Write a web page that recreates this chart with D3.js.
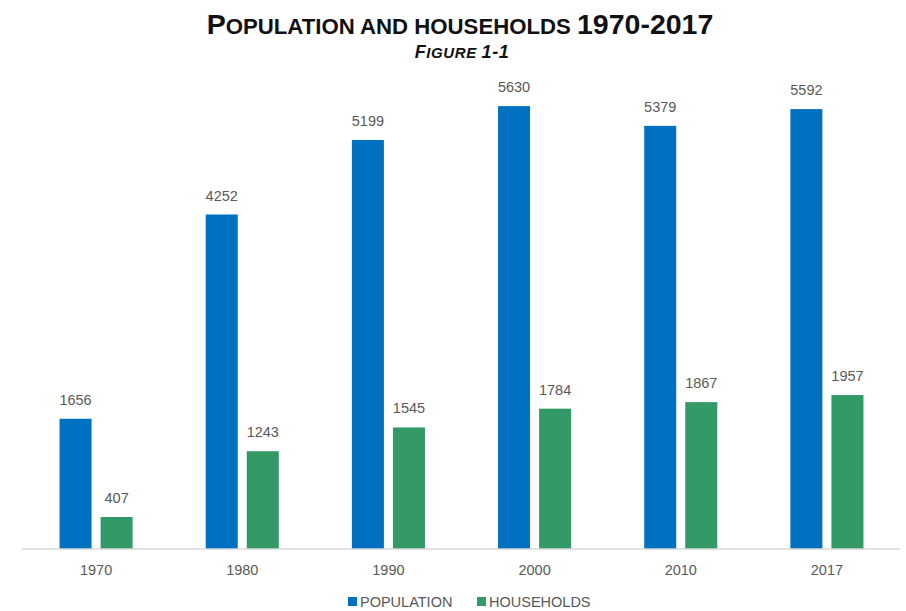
<!DOCTYPE html>
<html lang="en">
<head>
<meta charset="UTF-8">
<title>Population and households 1970-2017</title>
<style>
    html, body { margin: 0; padding: 0; background: #fff; }
    svg { display: block; font-family: "Liberation Sans", Arial, sans-serif; }
</style>
</head>
<body>
<svg id="svg" width="906" height="611"></svg>
<script src="https://d3js.org/d3.v7.min.js"></script>
<script>
    const years = ['1970', '1980', '1990', '2000', '2010', '2017']
    const population = [1656, 4252, 5199, 5630, 5379, 5592]
    const households = [407, 1243, 1545, 1784, 1867, 1957]
    const seriesNames = ['POPULATION', 'HOUSEHOLDS']
    const seriesColors = ['#0070C0', '#339966']

    const rows = years.map((y, i) => ({ year: y, values: [population[i], households[i]] }))

    const margin = { top: 77, right: 6, bottom: 62, left: 23 }
    const width = 906, height = 611
    const baseY = height - margin.bottom

    const svg = d3.select('#svg')

    // group scale
    const x0 = d3.scaleBand()
        .domain(years)
        .range([margin.left, width - margin.right])
        .paddingInner(0.5)
        .paddingOuter(0.25)

    // bars inside a group
    const x1 = d3.scaleBand()
        .domain(seriesNames)
        .range([0, x0.bandwidth()])
        .paddingInner(0.22)

    const y = d3.scaleLinear()
        .domain([0, 6000])
        .range([baseY, margin.top])

    const groups = svg.append('g')
        .selectAll('g')
        .data(rows)
        .join('g')
        .attr('transform', d => `translate(${x0(d.year)},0)`)

    groups.selectAll('rect')
        .data(d => d.values.map((v, i) => ({ name: seriesNames[i], v, i })))
        .join('rect')
        .attr('x', d => x1(d.name))
        .attr('y', d => y(d.v))
        .attr('width', x1.bandwidth())
        .attr('height', d => baseY - y(d.v))
        .attr('fill', d => seriesColors[d.i])

    // value labels
    groups.selectAll('text')
        .data(d => d.values.map((v, i) => ({ name: seriesNames[i], v })))
        .join('text')
        .attr('x', d => x1(d.name) + x1.bandwidth() / 2)
        .attr('y', d => y(d.v) - 14)
        .attr('text-anchor', 'middle')
        .attr('font-size', 14.5)
        .attr('fill', '#595959')
        .text(d => d.v)

    // x axis
    const xAxis = svg.append('g')
        .attr('transform', `translate(0,${baseY})`)
        .call(d3.axisBottom(x0).tickSize(0).tickPadding(16))
    xAxis.select('.domain').attr('stroke', '#D9D9D9').attr('stroke-width', 1.5)
        .attr('d', `M${margin.left - 1},0H${width - 6}`)
    xAxis.selectAll('text')
        .attr('font-family', '"Liberation Sans", Arial, sans-serif')
        .attr('font-size', 14.5)
        .attr('fill', '#595959')

    // title, small caps built by hand (big initial, smaller caps)
    const title = svg.append('text')
        .attr('x', 460)
        .attr('y', 34)
        .attr('text-anchor', 'middle')
        .attr('font-weight', 'bold')
        .attr('fill', '#111')
    title.append('tspan').attr('font-size', 28.5).text('P')
    title.append('tspan').attr('font-size', 22.2).text('OPULATION AND HOUSEHOLDS ')
    title.append('tspan').attr('font-size', 28.5).text('1970-2017')

    const sub = svg.append('text')
        .attr('x', 462)
        .attr('y', 58)
        .attr('text-anchor', 'middle')
        .attr('font-weight', 'bold')
        .attr('font-style', 'italic')
        .attr('letter-spacing', 0.6)
        .attr('fill', '#111')
    sub.append('tspan').attr('font-size', 18).text('F')
    sub.append('tspan').attr('font-size', 15).text('IGURE ')
    sub.append('tspan').attr('font-size', 18).text('1-1')

    // legend
    const legend = svg.append('g').attr('transform', 'translate(348,607)')
    const legendX = [0, 129]
    seriesNames.forEach((name, i) => {
        const g = legend.append('g').attr('transform', `translate(${legendX[i]},0)`)
        g.append('rect')
            .attr('x', 0).attr('y', -10)
            .attr('width', 9).attr('height', 9)
            .attr('fill', seriesColors[i])
        g.append('text')
            .attr('x', 12).attr('y', 0)
            .attr('font-size', 14.5)
            .attr('fill', '#595959')
            .text(name)
    })
</script>
</body>
</html>
